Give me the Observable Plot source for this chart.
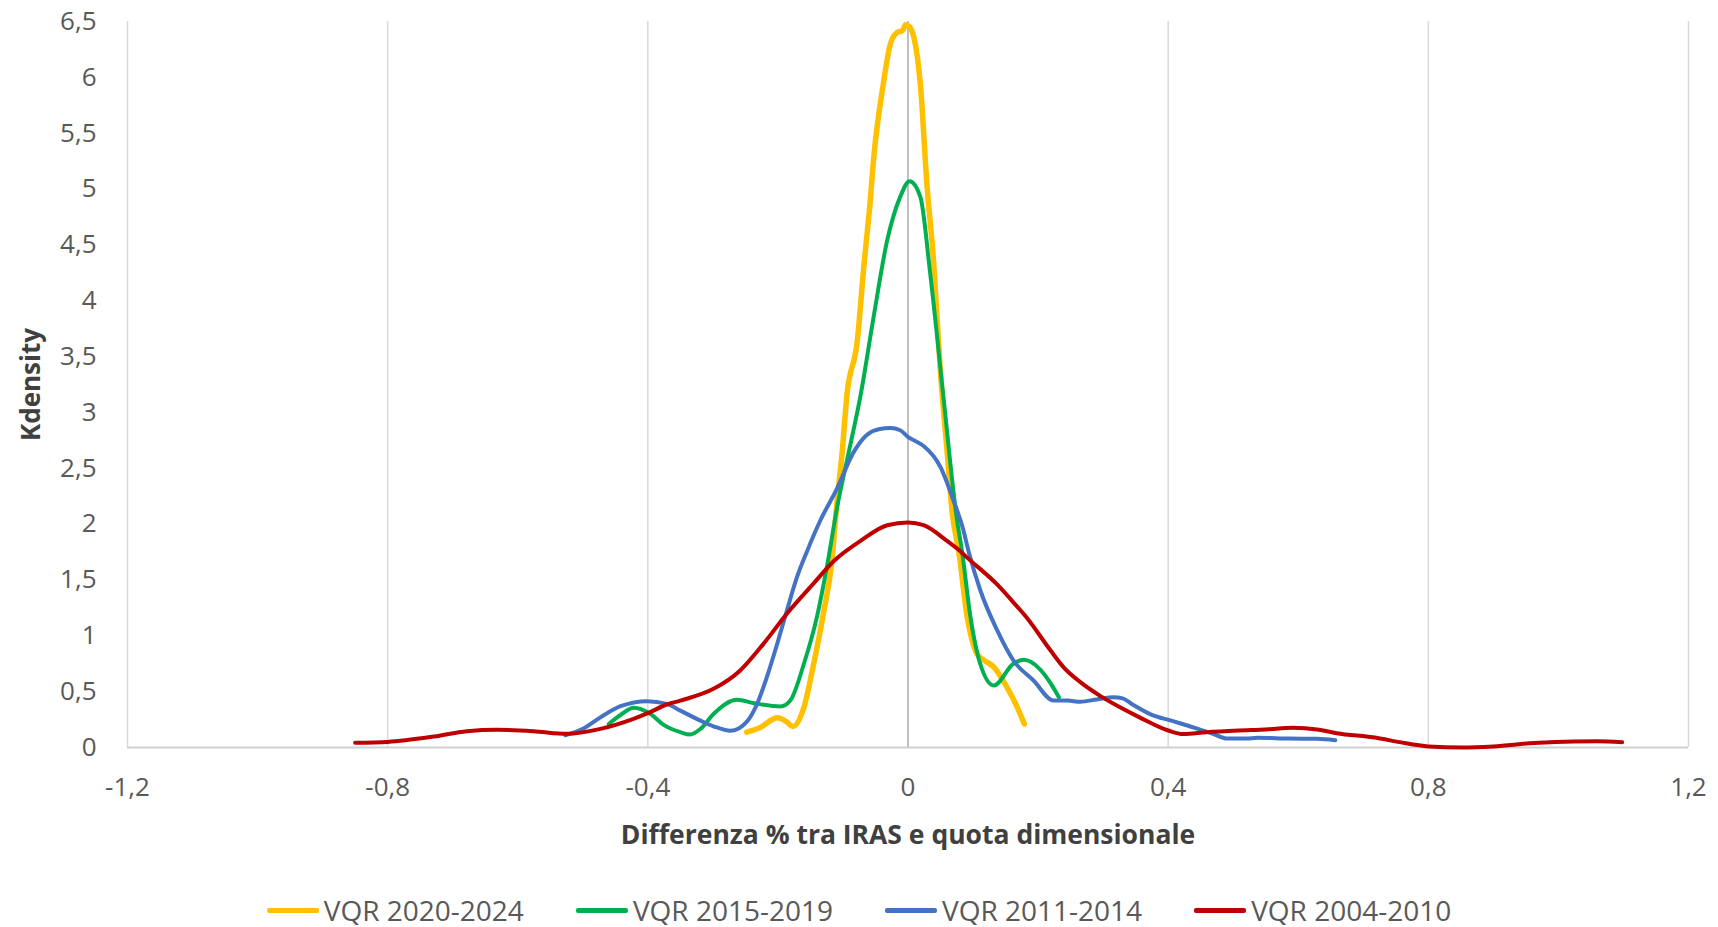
<!DOCTYPE html>
<html><head><meta charset="utf-8">
<script src="https://cdn.jsdelivr.net/npm/d3@7"></script>
<script src="https://cdn.jsdelivr.net/npm/@observablehq/plot@0.6"></script>
<style>
html,body{margin:0;padding:0;background:#fff;}
#chart{width:1718px;height:880px;}
.legend{display:flex;justify-content:center;align-items:center;height:30px;line-height:30px;margin-top:15px;font-family:"Open Sans";font-size:28px;color:#595959;}
.item{display:flex;align-items:center;margin:0 26px;}
.sw{width:52px;height:5px;margin-right:5px;border-radius:2px;}
</style></head><body>
<div id="chart"></div>
<div class="legend" id="legend"></div>
<script>
const seriesNames = ["VQR 2020-2024", "VQR 2015-2019", "VQR 2011-2014", "VQR 2004-2010"];
const seriesColors = ["#FFC000", "#00B050", "#4472C4", "#C00000"];

const x2020 = [-0.248,-0.227,-0.201,-0.186,-0.177,-0.16,-0.145,-0.13,-0.117,-0.109,-0.101,-0.094,-0.078,-0.068,-0.058,-0.053,-0.038,-0.027,-0.017,-0.008,-0.004,0.001,0.009,0.019,0.029,0.039,0.05,0.06,0.068,0.078,0.091,0.106,0.116,0.132,0.152,0.168,0.179];
const y2020 = [0.137,0.18,0.266,0.227,0.188,0.36,0.75,1.20,1.67,2.21,2.66,3.15,3.64,4.30,4.90,5.26,5.94,6.30,6.40,6.42,6.47,6.46,6.36,5.94,5.05,4.38,3.35,2.66,2.1,1.76,1.17,0.84,0.785,0.72,0.54,0.36,0.21];

const x2015 = [-0.46,-0.44,-0.422,-0.396,-0.375,-0.35,-0.335,-0.319,-0.299,-0.263,-0.237,-0.196,-0.181,-0.16,-0.14,-0.124,-0.109,-0.089,-0.073,-0.053,-0.032,-0.012,0.0025,0.019,0.034,0.055,0.075,0.083,0.096,0.111,0.132,0.162,0.178,0.203,0.222,0.232];
const y2015 = [0.21,0.30,0.355,0.30,0.20,0.137,0.116,0.167,0.30,0.427,0.397,0.367,0.42,0.75,1.17,1.64,2.15,2.7,3.15,3.85,4.54,4.93,5.07,4.93,4.25,3.11,2.05,1.76,1.17,0.75,0.555,0.75,0.785,0.70,0.55,0.45];

const x2011 = [-0.527,-0.499,-0.473,-0.442,-0.401,-0.371,-0.35,-0.319,-0.299,-0.273,-0.248,-0.232,-0.217,-0.201,-0.186,-0.171,-0.155,-0.135,-0.109,-0.084,-0.063,-0.045,-0.027,-0.012,0,0.009,0.024,0.05,0.07,0.085,0.093,0.111,0.137,0.162,0.193,0.224,0.245,0.265,0.29,0.316,0.33,0.344,0.374,0.405,0.441,0.47,0.49,0.52,0.538,0.586,0.629,0.657];
const y2011 = [0.11,0.17,0.27,0.37,0.415,0.39,0.33,0.24,0.19,0.15,0.23,0.39,0.63,0.93,1.23,1.52,1.76,2.03,2.32,2.64,2.80,2.85,2.86,2.84,2.78,2.75,2.70,2.51,2.21,1.95,1.76,1.41,1.05,0.78,0.60,0.42,0.42,0.41,0.43,0.45,0.44,0.39,0.295,0.24,0.176,0.12,0.08,0.08,0.087,0.08,0.078,0.065];

const x2004 = [-0.85,-0.80,-0.729,-0.678,-0.632,-0.576,-0.524,-0.473,-0.422,-0.40,-0.371,-0.35,-0.299,-0.258,-0.222,-0.186,-0.145,-0.114,-0.073,-0.032,0,0.024,0.06,0.08,0.091,0.137,0.162,0.183,0.219,0.239,0.265,0.296,0.326,0.356,0.40,0.423,0.459,0.508,0.55,0.592,0.629,0.659,0.72,0.756,0.80,0.853,0.90,0.962,1.023,1.06,1.098];
const y2004 = [0.042,0.05,0.098,0.146,0.158,0.146,0.122,0.167,0.257,0.307,0.385,0.42,0.525,0.69,0.93,1.20,1.47,1.67,1.85,1.99,2.015,1.99,1.85,1.76,1.70,1.46,1.30,1.16,0.87,0.72,0.585,0.46,0.36,0.27,0.152,0.12,0.137,0.152,0.161,0.176,0.161,0.128,0.087,0.048,0.01,0.0,0.01,0.04,0.054,0.055,0.048];

const xTicks = [-1.2,-0.8,-0.4,0,0.4,0.8,1.2];
const yTicks = [0,0.5,1,1.5,2,2.5,3,3.5,4,4.5,5,5.5,6,6.5];
const xTitle = "Differenza % tra IRAS e quota dimensionale";
const yTitle = "Kdensity";

const fmt = d => String(d).replace(".", ",");
const seriesX = [x2020, x2015, x2011, x2004];
const seriesY = [y2020, y2015, y2011, y2004];
const widths = [5.5, 4, 4, 4];

const lineMarks = seriesX.map((xs, i) =>
  Plot.line(xs, {x: xs, y: seriesY[i], stroke: seriesColors[i], strokeWidth: widths[i], curve: "monotone-x", strokeLinecap: "round", strokeLinejoin: "round"})
);

const plot = Plot.plot({
  width: 1718, height: 880,
  marginLeft: 127, marginRight: 30, marginTop: 21, marginBottom: 133,
  style: {fontFamily: "Open Sans", fontSize: "26px", color: "#595959", background: "#fff"},
  x: {domain: [-1.2, 1.2]},
  y: {domain: [0, 6.5]},
  marks: [
    Plot.ruleX(xTicks, {stroke: "#d9d9d9", strokeWidth: 1.5}),
    Plot.ruleX([0], {stroke: "#bfbfbf", strokeWidth: 2}),
    Plot.ruleY([0], {stroke: "#d0d0d0", strokeWidth: 2}),
    Plot.axisX(xTicks, {tickSize: 0, tickPadding: 30, tickFormat: fmt, label: null, fontSize: 26, fill: "#595959"}),
    Plot.axisY(yTicks, {tickSize: 0, tickPadding: 31, tickFormat: fmt, label: null, fontSize: 26, fill: "#595959"}),
    ...lineMarks,
    Plot.text([xTitle], {text: d => d, frameAnchor: "bottom", dy: 88, lineAnchor: "middle", textAnchor: "middle", fontWeight: "bold", fontSize: 26.5, fill: "#404040"}),
    Plot.text([yTitle], {text: d => d, frameAnchor: "left", dx: -96, rotate: -90, lineAnchor: "middle", textAnchor: "middle", fontWeight: "bold", fontSize: 26, fill: "#404040"})
  ]
});
document.getElementById("chart").appendChild(plot);

const leg = document.getElementById("legend");
seriesNames.forEach((n, i) => {
  const it = document.createElement("div"); it.className = "item";
  const sw = document.createElement("div"); sw.className = "sw"; sw.style.background = seriesColors[i];
  const tx = document.createElement("span"); tx.textContent = n;
  it.appendChild(sw); it.appendChild(tx); leg.appendChild(it);
});
</script>
</body></html>
